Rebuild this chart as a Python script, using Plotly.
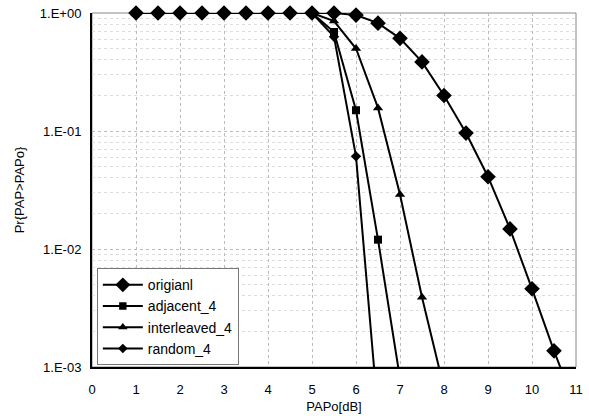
import plotly.graph_objects as go

x_orig = [1, 1.5, 2, 2.5, 3, 3.5, 4, 4.5, 5, 5.5, 6, 6.5, 7, 7.5, 8, 8.5, 9, 9.5, 10, 10.5, 11]
y_orig = [1, 1, 1, 1, 1, 1, 1, 1, 1, 1, 0.96, 0.82, 0.61, 0.385, 0.20, 0.096, 0.041, 0.0148, 0.0046, 0.00137, 0.00045]

x_adj = [1, 1.5, 2, 2.5, 3, 3.5, 4, 4.5, 5, 5.5, 6, 6.5, 7]
y_adj = [1, 1, 1, 1, 1, 1, 1, 1, 1, 0.69, 0.15, 0.012, 0.0008]

x_int = [1, 1.5, 2, 2.5, 3, 3.5, 4, 4.5, 5, 5.5, 6, 6.5, 7, 7.5, 8]
y_int = [1, 1, 1, 1, 1, 1, 1, 1, 1, 0.855, 0.50, 0.157, 0.029, 0.0039, 0.00066]

x_rnd = [1, 1.5, 2, 2.5, 3, 3.5, 4, 4.5, 5, 5.5, 6, 6.5]
y_rnd = [1, 1, 1, 1, 1, 1, 1, 1, 1, 0.63, 0.061, 0.0004]

names = ["origianl", "adjacent_4", "interleaved_4", "random_4"]
x_ticks = list(range(0, 12))
y_tickvals = [1e-3, 1e-2, 1e-1, 1]
y_ticktext = ["1.E-03", "1.E-02", "1.E-01", "1.E+00"]
Y_MIN = 1e-3

FONT = "Liberation Sans, Arial, sans-serif"

fig = go.Figure()
series = [
    (x_orig, y_orig, names[0], "diamond", 12),
    (x_adj, y_adj, names[1], "square", 8),
    (x_int, y_int, names[2], "triangle-up", 9),
    (x_rnd, y_rnd, names[3], "diamond", 8),
]
for xs, ys, nm, sym, sz in series:
    sizes = [sz if v >= Y_MIN else 0 for v in ys]
    fig.add_trace(go.Scatter(
        x=xs, y=ys, name=nm, mode="lines+markers",
        line=dict(color="black", width=2),
        marker=dict(symbol=sym, size=sizes, color="black", opacity=1,
                    line=dict(width=0, color="black")),
        cliponaxis=False,
    ))

fig.update_layout(
    width=589, height=416,
    margin=dict(l=92, r=13, t=13, b=49, autoexpand=False),
    paper_bgcolor="white", plot_bgcolor="white",
    font=dict(family=FONT, color="black", size=12),
    showlegend=True,
    legend=dict(
        x=0.01, y=0.005, xanchor="left", yanchor="bottom",
        bgcolor="white", bordercolor="#777", borderwidth=1,
        font=dict(size=14, family=FONT),
        tracegroupgap=0, itemwidth=40,
    ),
)
fig.update_xaxes(
    range=[0, 11], tickvals=x_ticks, ticks="", automargin=False,
    ticklabelstandoff=9,
    showgrid=True, gridcolor="#bbbbbb", griddash="dot", gridwidth=1,
    showline=True, linecolor="black", linewidth=2, mirror=False,
    zeroline=False,
    title=dict(text="PAPo[dB]", font=dict(size=13), standoff=6),
    tickfont=dict(size=13),
)
fig.update_yaxes(
    type="log", range=[-3, 0], tickvals=y_tickvals, ticktext=y_ticktext,
    ticks="", automargin=False, ticklabelstandoff=6,
    showgrid=True, gridcolor="#bbbbbb", griddash="dot", gridwidth=1,
    minor=dict(showgrid=True, gridcolor="#dddddd", griddash="dot", dtick="D1"),
    showline=True, linecolor="black", linewidth=2,
    zeroline=False,
    title=dict(text="Pr{PAP>PAPo}", font=dict(size=13), standoff=12),
    tickfont=dict(size=13),
)
fig.add_shape(type="rect", xref="paper", yref="paper", x0=0, y0=0, x1=1, y1=1,
              line=dict(color="#888888", width=1), layer="below")

fig.write_html("out.html", config={"displayModeBar": False},
               post_script="document.body.style.margin='0';")
